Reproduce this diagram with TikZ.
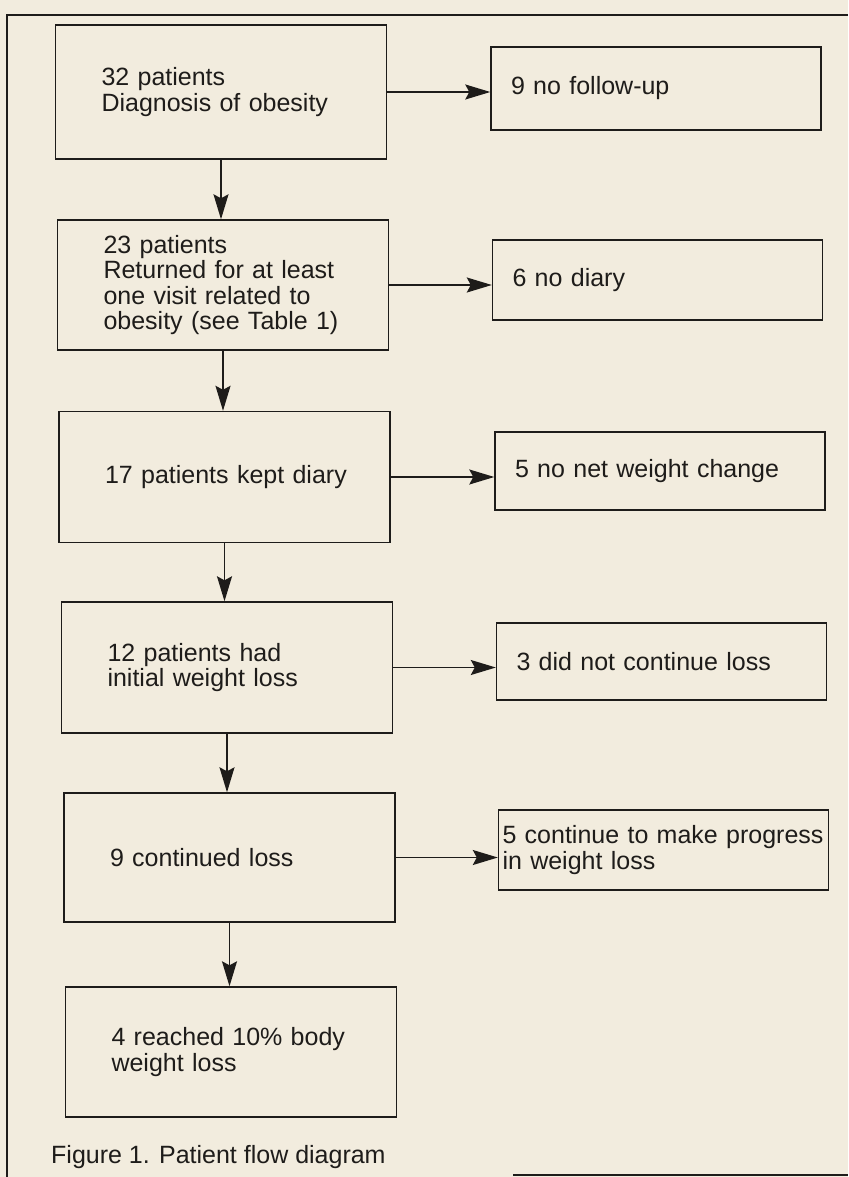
\documentclass[tikz,border=0pt]{standalone}
\usepackage{fontspec}
\setmainfont{Liberation Sans}
\usetikzlibrary{arrows.meta}
\definecolor{paper}{RGB}{242,236,222}
\definecolor{ink}{RGB}{30,28,26}
\begin{document}
\begin{tikzpicture}[x=1pt,y=-1pt,
  every node/.style={font=\fontsize{25}{25.5}\selectfont, text=ink},
  lbox/.style={draw=ink, line width=1.4pt, minimum height=131pt, text width=239pt, inner xsep=46pt, inner ysep=2pt, align=left},
  rbox/.style={draw=ink, line width=1.4pt, minimum height=80pt, text width=290pt, inner xsep=20pt, inner ysep=2pt, align=left},
  flow/.style={draw=ink, line width=1.5pt, -{Stealth[length=25pt,width=15pt,inset=4pt]}},
  frameline/.style={draw=ink, line width=2pt}]
\fill[paper] (0,0) rectangle (848,1177);
\useasboundingbox (0,0) rectangle (848,1177);

% outer frame
\coordinate (ftl) at (7,15);
\coordinate (ftr) at (848,15);
\coordinate (fbl) at (7,1177);
\coordinate (fbm) at (513,1175);
\coordinate (fbr) at (848,1175);
\draw[frameline] (ftr) -- (ftl) -- (fbl);
\draw[frameline] (fbm) -- (fbr);

% left column
\node[lbox, minimum height=134pt] (b1) at (221,92) {\mbox{32 patients}\\\mbox{Diagnosis of obesity}};
\node[lbox, minimum height=130pt] (b2) at (223,285) {\mbox{23 patients}\\\mbox{Returned for at least}\\\mbox{one visit related to}\\\mbox{obesity (see Table 1)}};
\node[lbox] (b3) at (224.5,477) {\mbox{17 patients kept diary}};
\node[lbox] (b4) at (227,667.5) {\mbox{12 patients had}\\\mbox{initial weight loss}};
\node[lbox, minimum height=129pt] (b5) at (229.5,857.5) {\mbox{9 continued loss}};
\node[lbox, minimum height=130pt] (b6) at (231,1052) {\mbox{4 reached 10\% body}\\\mbox{weight loss}};

% right column
\node[rbox, minimum height=83pt] (r1) at (656,88.5) {\mbox{9 no follow-up}};
\node[rbox] (r2) at (657.5,280) {\mbox{6 no diary}};
\node[rbox, minimum height=78pt] (r3) at (660,471) {\mbox{5 no net weight change}};
\node[rbox, minimum height=77pt] (r4) at (661.5,661.5) {\mbox{3 did not continue loss}};
\node[rbox, text width=322pt, inner xsep=4pt] (r5) at (663.5,850) {\mbox{5 continue to make progress}\\\mbox{in weight loss}};

% caption
\node[anchor=base west, inner sep=0pt] (cap) at (51,1163) {Figure 1. Patient flow diagram};

% vertical connectors
\draw[flow] (b1.south) -- (b1.south |- b2.north);
\draw[flow] (b2.south) -- (b2.south |- b3.north);
\draw[flow] (b3.south) -- (b3.south |- b4.north);
\draw[flow] (b4.south) -- (b4.south |- b5.north);
\draw[flow] (b5.south) -- (b5.south |- b6.north);

% horizontal connectors
\draw[flow] (b1.east) -- (b1.east -| r1.west);
\draw[flow] (b2.east) -- (b2.east -| r2.west);
\draw[flow] (b3.east) -- (b3.east -| r3.west);
\draw[flow] (b4.east) -- (b4.east -| r4.west);
\draw[flow] (b5.east) -- (b5.east -| r5.west);
\end{tikzpicture}
\end{document}
